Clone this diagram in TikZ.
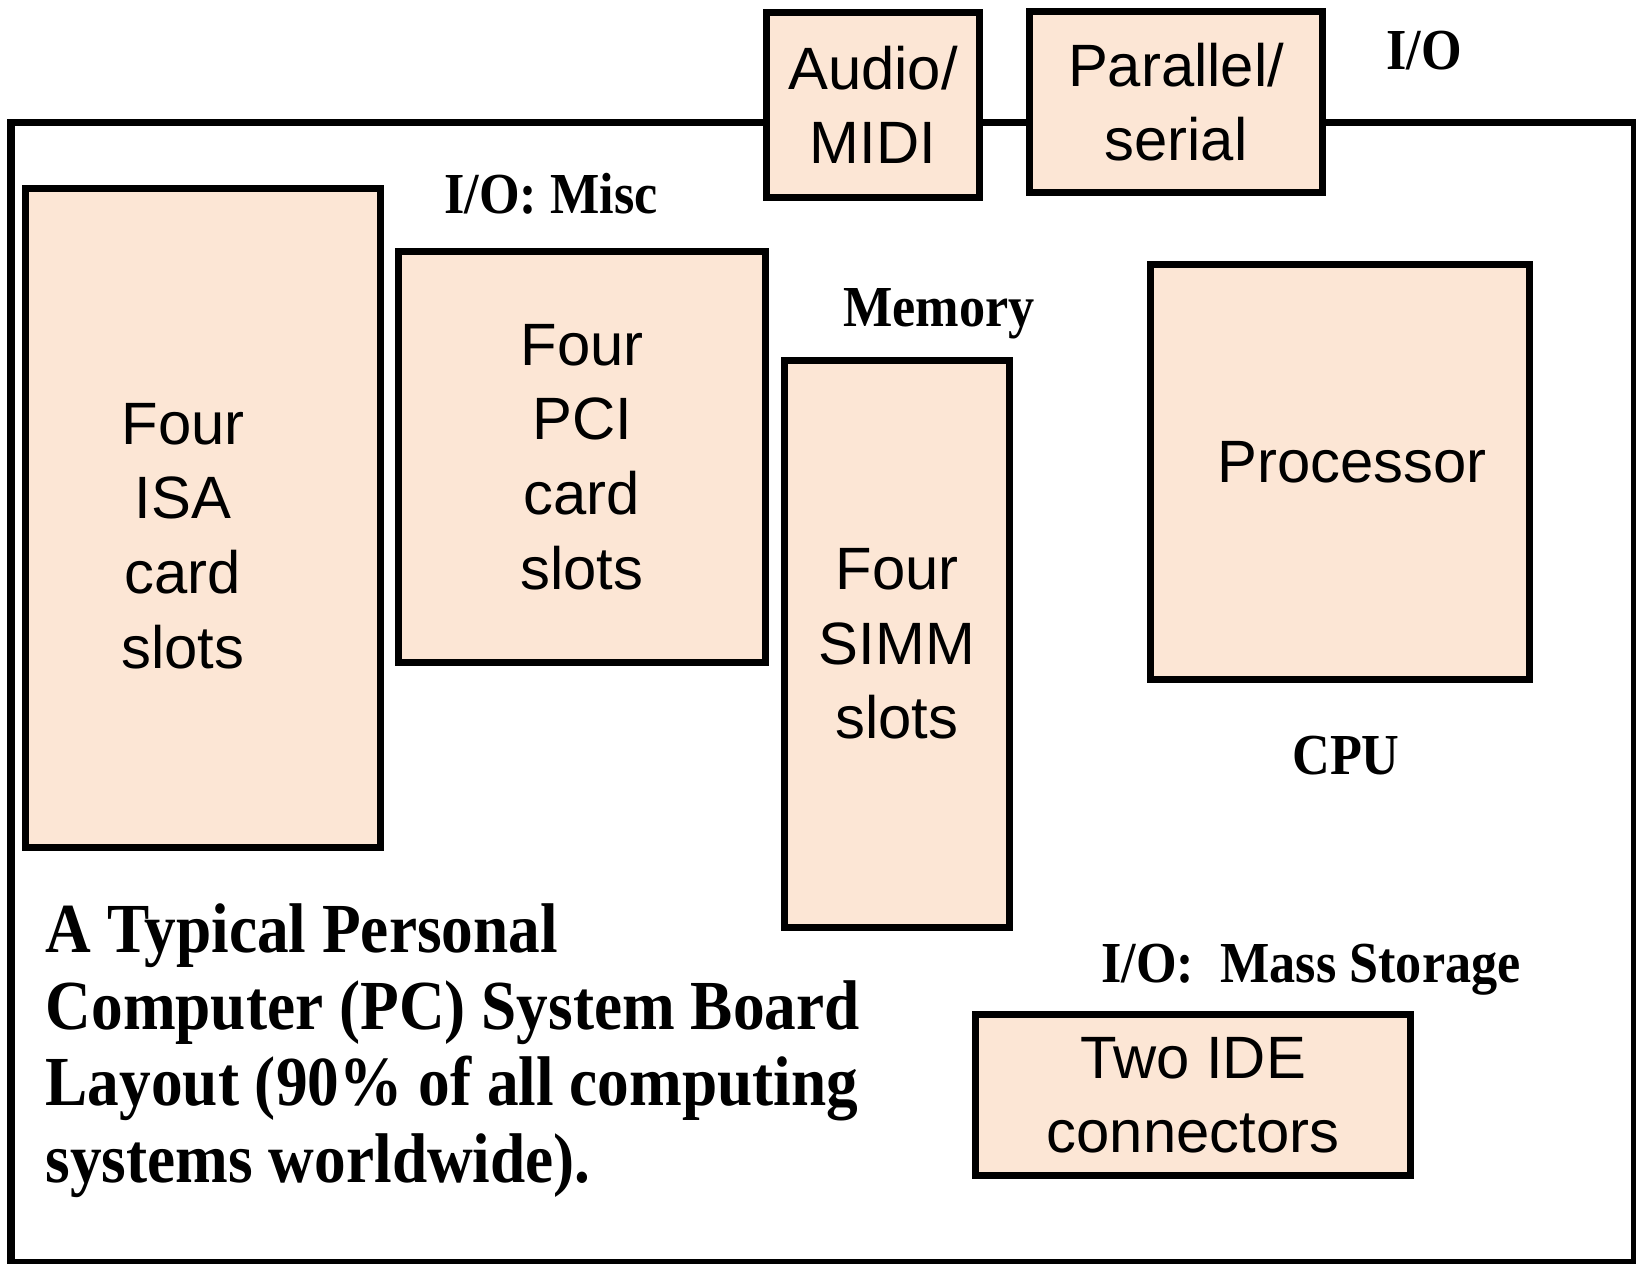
\documentclass[tikz,border=0pt]{standalone}
\usepackage{fontspec}
\setmainfont{Liberation Serif}
\newfontfamily\boxfont{Liberation Sans}
\newfontfamily\tagfont{Liberation Serif}[FakeStretch=0.9]
\definecolor{slotfill}{RGB}{252,230,213}

\begin{document}
\begin{tikzpicture}[x=0.01cm, y=-0.01cm]
        \tikzset{
            slot/.style={draw, line width=0.07cm, fill=slotfill, align=center, inner sep=0pt,
                font=\boxfont\fontsize{17}{21.2}\selectfont},
            slot_text/.style={align=center, inner sep=0pt, font=\boxfont\fontsize{17}{21.2}\selectfont},
            tag/.style={anchor=base, font=\tagfont\bfseries\fontsize{16.5}{18}\selectfont},
            board/.style={line width=0.07cm}
        }
        \useasboundingbox (0,0) rectangle (1636,1264);

        % system board outline, the slots sit on top of it
        \draw[board] (11,123) rectangle (1634,1262);

        \node[slot, minimum width=2.12cm, minimum height=1.85cm] (audio) at (873,105) {Audio/\\MIDI};
        \node[slot, minimum width=2.93cm, minimum height=1.8cm] (serial) at (1176,102) {Parallel/\\serial};
        \node[slot, minimum width=3.54cm, minimum height=6.59cm] (isa) at (203,518) {};
        \node[slot_text] (isa_text) at (183,536) {Four\\ISA\\card\\slots};
        \node[slot, minimum width=3.66cm, minimum height=4.11cm] (pci) at (582,457) {Four\\PCI\\card\\slots};
        \node[slot, minimum width=2.24cm, minimum height=5.67cm] (simm) at (897,644) {Four\\SIMM\\slots};
        \node[slot, minimum width=3.79cm, minimum height=4.15cm] (cpu) at (1340,472) {};
        \node[slot_text] (cpu_text) at (1352,462) {Processor};
        \node[slot, minimum width=4.34cm, minimum height=1.61cm] (ide) at (1193,1095) {Two IDE\\connectors};

        \node[tag] (io) at (1424,70) {I/O};
        \node[tag] (iomisc) at (551,214) {I/O: Misc};
        \node[tag] (memory) at (939,327) {Memory};
        \node[tag] (cputag) at (1346,774) {CPU};
        \node[tag] (iomass) at (1311,982) {I/O:\ \ Mass Storage};

        \node[anchor=north west, align=left, inner sep=0pt,
            font=\tagfont\bfseries\fontsize{20}{21.8}\selectfont] (title) at (45,903) {
                A Typical Personal\\
                Computer (PC) System Board\\
                Layout (90\% of all computing\\
                systems worldwide).
            };
    \end{tikzpicture}
\end{document}
